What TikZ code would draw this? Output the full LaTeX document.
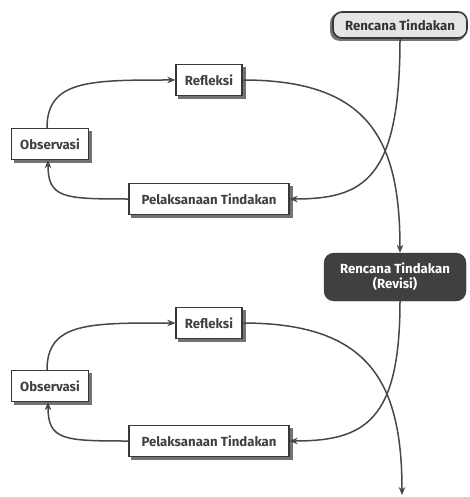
\documentclass[tikz,border=0pt]{standalone}
\usepackage{fontspec}
\setmainfont{Fira Sans}
\usetikzlibrary{arrows.meta,backgrounds}
\begin{document}
\begin{tikzpicture}[x=1pt,y=-1pt,
  lbl/.style={font=\bfseries\fontsize{13.2}{15}\selectfont},
  box/.style={lbl, draw=black!78, line width=1.3pt, fill=white, text=black!75,
    minimum height=31pt, inner xsep=4pt},
  topbox/.style={lbl, draw=black!78, line width=1.6pt, fill=black!10, text=black!80,
    rounded corners=9pt, minimum width=134pt, minimum height=26pt},
  revbox/.style={lbl, draw=black!78, fill=black!75, text=white, rounded corners=10pt,
    minimum width=142pt, minimum height=48pt, align=center},
  shadowfill/.style={fill=black!55},
  arr/.style={draw=black!72, line width=1.5pt, -{Stealth[length=8pt,width=6.5pt]}}
]
\useasboundingbox (0,0) rectangle (469,497);

\node[topbox] (rt) at (400,25) {Rencana Tindakan};

\node[box, minimum width=66pt]  (r1) at (209,80)  {Refleksi};
\node[box, minimum width=77pt]  (o1) at (50,144)  {Observasi};
\node[box, minimum width=160pt] (p1) at (209,199) {Pelaksanaan Tindakan};

\node[revbox, inner sep=2pt] (rv) at (395,277) {Rencana Tindakan\\(Revisi)};

\node[box, minimum width=66pt]  (r2) at (209,323) {Refleksi};
\node[box, minimum width=77pt]  (o2) at (50,386)  {Observasi};
\node[box, minimum width=160pt] (p2) at (209,441) {Pelaksanaan Tindakan};

\coordinate (end) at (402,495);

\begin{pgfonlayer}{background}
  \foreach \n in {r1,o1,p1,r2,o2,p2}{
    \fill[shadowfill] ([shift={(3,3)}]\n.north west) rectangle ([shift={(3,3)}]\n.south east);
  }
  \fill[shadowfill, rounded corners=9pt] ([shift={(-2,2)}]rt.north west) rectangle ([shift={(-2,2)}]rt.south east);
\end{pgfonlayer}

% top loop
\draw[arr] ([xshift=-3pt]o1.north) .. controls +(0,-48) and +(-85,0) .. (r1.west);
\draw[arr] (p1.west) .. controls +(-65,0) and +(0,38) .. ([xshift=-2pt]o1.south);
\draw[arr] (rt.south) .. controls +(0,140) and +(75,0) .. (p1.east);
\draw[arr] (r1.east) .. controls +(125,0) and +(0,-115) .. ([xshift=5pt]rv.north);

% bottom loop
\draw[arr] ([xshift=-3pt]o2.north) .. controls +(0,-48) and +(-85,0) .. (r2.west);
\draw[arr] (p2.west) .. controls +(-65,0) and +(0,38) .. ([xshift=-2pt]o2.south);
\draw[arr] ([xshift=5pt]rv.south) .. controls +(0,120) and +(75,0) .. (p2.east);
\draw[arr] (r2.east) .. controls +(125,0) and +(0,-115) .. (end);
\end{tikzpicture}
\end{document}
